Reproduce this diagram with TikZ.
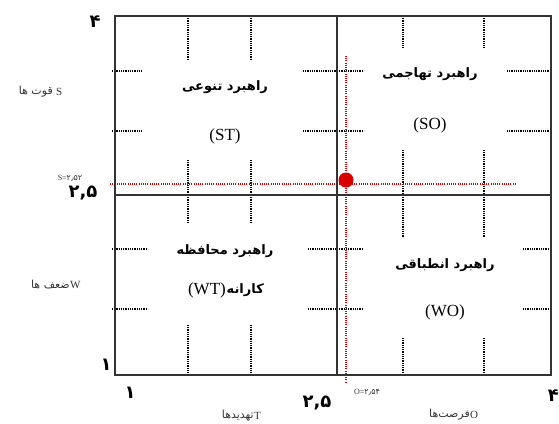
\documentclass[tikz,border=0pt]{standalone}
\usepackage{fontspec}
\setmainfont{Liberation Serif}
\newfontfamily\arabicfont[Script=Arabic]{DejaVu Sans}
\TeXXeTstate=1
\begin{document}
\begin{tikzpicture}[x=1pt,y=-1pt,
  frame/.style={draw=black!80,line width=1.8pt},
  tick/.style={draw=black,line width=1.4pt,dash pattern=on 0.6pt off 1.2pt},
  redline/.style={draw=red!85!black,line width=1.1pt,dash pattern=on 0.8pt off 1.4pt},
  quad/.style={font=\arabicfont\bfseries\fontsize{13}{15}\selectfont,inner sep=0pt},
  quadlat/.style={font=\fontsize{17}{19}\selectfont,inner sep=0pt},
  axnum/.style={font=\arabicfont\bfseries\fontsize{18}{20}\selectfont,inner sep=0pt},
  axlab/.style={font=\arabicfont\fontsize{11}{13}\selectfont,inner sep=0pt,text=black!80},
  axlat/.style={font=\fontsize{11}{13}\selectfont,inner sep=0pt,text=black!80},
  small/.style={font=\fontsize{8}{9}\selectfont,inner sep=0pt,text=black!80}]
\useasboundingbox[fill=white] (0,0) rectangle (559,423);
% frame coordinates
\coordinate (TL) at (115,16);
\coordinate (BR) at (551,375);
\coordinate (MT) at (337,16);
\coordinate (MB) at (337,375);
\coordinate (ML) at (115,195);
\coordinate (MR) at (551,195);
% dotted ticks: vertical
\foreach \x/\a/\b/\c/\d in {188/16/60/160/195, 251/16/60/160/195, 403/16/48/150/195, 484/16/48/150/195}{
  \draw[tick] (\x,\a) -- (\x,\b);
  \draw[tick] (\x,\c) -- (\x,\d);
}
\foreach \x/\a/\b/\c/\d in {188/195/223/325/375, 251/195/223/325/375, 403/195/237/338/375, 484/195/237/338/375}{
  \draw[tick] (\x,\a) -- (\x,\b);
  \draw[tick] (\x,\c) -- (\x,\d);
}
% dotted ticks: horizontal
\foreach \y in {71,131}{
  \draw[tick] (112,\y) -- (142,\y);
  \draw[tick] (303,\y) -- (337,\y);
  \draw[tick] (337,\y) -- (364,\y);
  \draw[tick] (507,\y) -- (551,\y);
}
\foreach \y in {249,309}{
  \draw[tick] (112,\y) -- (148,\y);
  \draw[tick] (308,\y) -- (337,\y);
  \draw[tick] (337,\y) -- (363,\y);
  \draw[tick] (523,\y) -- (551,\y);
}
% red guide lines
\coordinate (RT) at (346,56);
\coordinate (RB) at (346,382);
\coordinate (RL) at (110,184);
\coordinate (RR) at (515,184);
\draw[redline] (RT) -- (RB);
\draw[redline] (RL) -- (RR);
% frame and mid lines
\draw[frame] (TL) rectangle (BR);
\draw[frame] (MT) -- (MB);
\draw[frame] (ML) -- (MR);
% point
\node[circle,fill=red!85!black,minimum size=15pt,inner sep=0pt] (pt) at (346,180) {};
% quadrant labels
\node[quad] (st1) at (225,87) {\beginR راهبرد تنوعی\endR};
\node[quadlat] (st2) at (225,136) {(ST)};
\node[quad] (so1) at (430,74) {\beginR راهبرد تهاجمی\endR};
\node[quadlat] (so2) at (430,125) {(SO)};
\node[quad] (wt1) at (225,251) {\beginR راهبرد محافظه\endR};
\node[quadlat,anchor=east] (wt2) at (226,290) {(WT)};
\node[quad,anchor=west] (wt3) at ([xshift=0.5pt]wt2.east) {\beginR کارانه\endR};
\node[quad] (wo1) at (445,265) {\beginR راهبرد انطباقی\endR};
\node[quadlat] (wo2) at (445,312) {(WO)};
% axis numbers
\node[axnum] (y4) at (95,22) {۴};
\node[axnum] (y25) at (83,193) {۲,۵};
\node[axnum] (y1) at (106,365) {۱};
\node[axnum] (x1) at (130,393) {۱};
\node[axnum] (x25) at (317,403) {۲,۵};
\node[axnum,anchor=east] (x4) at (559,396) {۴};
% small values
\node[small] (sv) at (70,178) {S={\arabicfont ۲٫۵۲}};
\node[small] (ov) at (367,392) {O={\arabicfont ۲٫۵۴}};
% axis titles (Persian part, then Latin letter on its right)
\node[axlab,anchor=east] (ys) at (53,92) {\beginR قوت ها\endR};
\node[axlat,anchor=west] (ysl) at ([xshift=3pt]ys.east) {S};
\node[axlab,anchor=east] (yw) at (70,285) {\beginR ضعف ها\endR};
\node[axlat,anchor=west] (ywl) at (yw.east) {W};
\node[axlab,anchor=east] (xt) at (254,416) {\beginR تهدیدها\endR};
\node[axlat,anchor=west] (xtl) at (xt.east) {T};
\node[axlab,anchor=east] (xo) at (470,415) {\beginR فرصت‌ها\endR};
\node[axlat,anchor=west] (xol) at (xo.east) {O};
\end{tikzpicture}
\end{document}
